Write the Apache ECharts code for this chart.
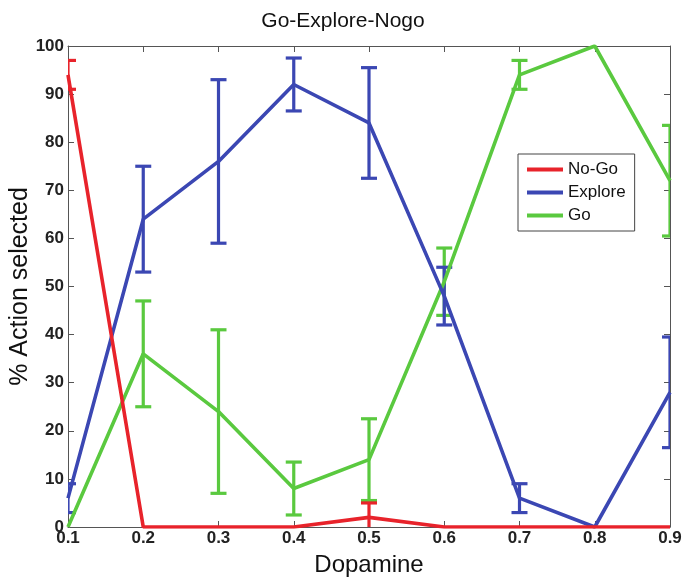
<!DOCTYPE html>
<html>
<head>
<meta charset="utf-8">
<script src="https://cdn.jsdelivr.net/npm/echarts@6/dist/echarts.min.js"></script>
<style>html,body{margin:0;padding:0;background:#fff}#c{width:686px;height:580px}</style>
</head>
<body>
<div id="c"></div>
<script>
const categories = ['0.1','0.2','0.3','0.4','0.5','0.6','0.7','0.8','0.9'];
const yTicks = [0,10,20,30,40,50,60,70,80,90,100];
const noGo = [94, 0, 0, 0, 2, 0, 0, 0, 0];
const noGoErr = [3, 0, 0, 0, 3, 0, 0, 0, 0];
const explore = [6, 64, 76, 92, 84, 48, 6, 0, 28];
const exploreErr = [3, 11, 17, 5.5, 11.5, 6, 3, 0, 11.5];
const go = [0, 36, 24, 8, 14, 51, 94, 100, 72];
const goErr = [0, 11, 17, 5.5, 8.5, 7, 3, 0, 11.5];

const RED = '#e8232b', BLUE = '#3b47b3', GREEN = '#5ac93f';
const FONT = 'Liberation Sans, Arial, sans-serif';

function errData(mean, err) {
  const out = [];
  mean.forEach((m, i) => { if (err[i] > 0) out.push([i, m - err[i], m + err[i]]); });
  return out;
}
function errSeries(name, mean, err, color) {
  return {
    type: 'custom', name: name + ' err', clip: true, z: 3,
    data: errData(mean, err),
    renderItem: function (params, api) {
      const x = api.value(0);
      const lo = api.coord([x, api.value(1)]);
      const hi = api.coord([x, api.value(2)]);
      const w = 8;
      const st = { stroke: color, lineWidth: 3.2 };
      return { type: 'group', children: [
        { type: 'line', shape: { x1: lo[0], y1: lo[1], x2: hi[0], y2: hi[1] }, style: st },
        { type: 'line', shape: { x1: lo[0] - w, y1: lo[1], x2: lo[0] + w, y2: lo[1] }, style: st },
        { type: 'line', shape: { x1: hi[0] - w, y1: hi[1], x2: hi[0] + w, y2: hi[1] }, style: st }
      ]};
    }
  };
}
function lineSeries(name, data, color) {
  return { type: 'line', name: name, data: data, symbol: 'none', z: 4,
    lineStyle: { color: color, width: 3.6 }, itemStyle: { color: color } };
}

const axisCommon = {
  axisLine: { show: true, onZero: false, lineStyle: { color: '#555', width: 1 } },
  axisTick: { show: true, inside: true, length: 6, lineStyle: { color: '#555' } },
  splitLine: { show: false }
};

const chart = echarts.init(document.getElementById('c'));
chart.setOption({
  animation: false,
  backgroundColor: '#fff',
  title: { text: 'Go-Explore-Nogo', left: 'center', top: 6,
    textStyle: { fontFamily: FONT, fontSize: 21, fontWeight: 'normal', color: '#111' } },
  grid: { left: 68, right: 16, top: 46, bottom: 53, containLabel: false, outerBoundsMode: 'none' },
  legend: {
    orient: 'vertical', left: 518, top: 154, padding: [7, 9, 7, 9], itemGap: 6,
    borderColor: '#444', borderWidth: 1, backgroundColor: '#fff',
    itemWidth: 36, itemHeight: 4, icon: 'rect',
    textStyle: { fontFamily: FONT, fontSize: 17, color: '#111' },
    data: ['No-Go', 'Explore', 'Go']
  },
  xAxis: [
    Object.assign({}, axisCommon, {
      type: 'category', data: categories, boundaryGap: false, position: 'bottom',
      name: 'Dopamine', nameLocation: 'middle', nameGap: 26, nameMoveOverlap: false,
      nameTextStyle: { fontFamily: FONT, fontSize: 24, color: '#111' },
      axisLabel: { fontFamily: FONT, fontSize: 17, fontWeight: 'bold', color: '#222', margin: 3 }
    }),
    Object.assign({}, axisCommon, {
      type: 'category', data: categories, boundaryGap: false, position: 'top',
      axisLabel: { show: false }
    })
  ],
  yAxis: [
    Object.assign({}, axisCommon, {
      type: 'value', min: yTicks[0], max: yTicks[yTicks.length - 1], interval: 10, position: 'left',
      name: '% Action selected', nameLocation: 'middle', nameGap: 35, nameMoveOverlap: false,
      nameTextStyle: { fontFamily: FONT, fontSize: 25, color: '#111' },
      axisLabel: { fontFamily: FONT, fontSize: 17, fontWeight: 'bold', color: '#222', margin: 4 }
    }),
    Object.assign({}, axisCommon, {
      type: 'value', min: yTicks[0], max: yTicks[yTicks.length - 1], interval: 10, position: 'right',
      axisLabel: { show: false }
    })
  ],
  series: [
    lineSeries('Go', go, GREEN),
    errSeries('Go', go, goErr, GREEN),
    lineSeries('Explore', explore, BLUE),
    errSeries('Explore', explore, exploreErr, BLUE),
    lineSeries('No-Go', noGo, RED),
    errSeries('No-Go', noGo, noGoErr, RED)
  ]
});
</script>
</body>
</html>
